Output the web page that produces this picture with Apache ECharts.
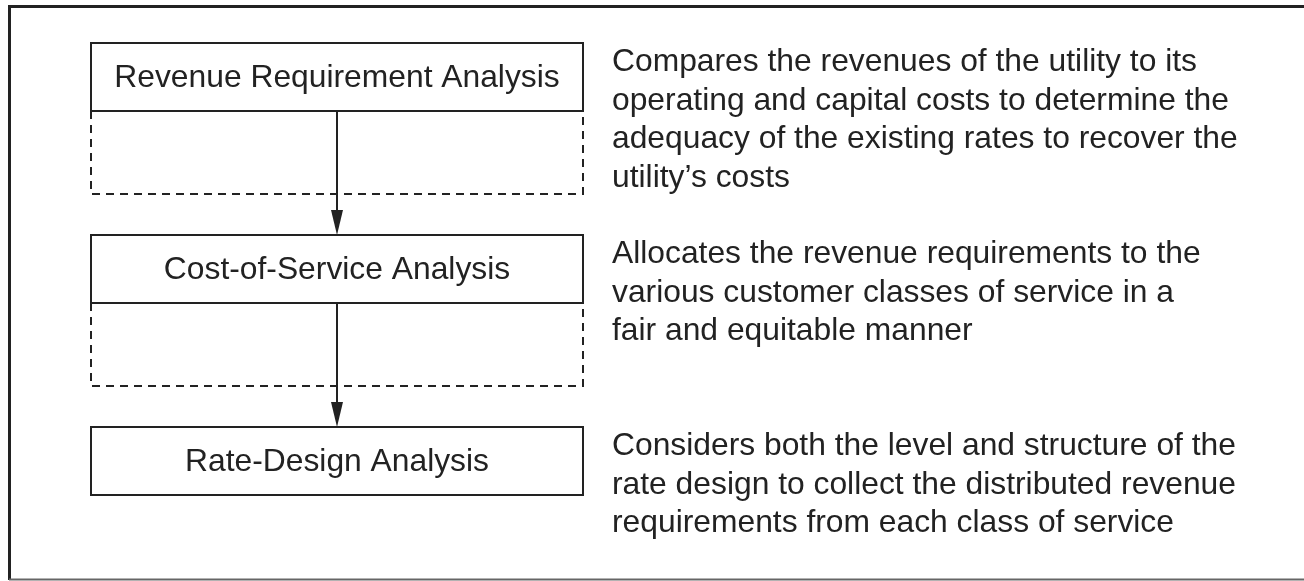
<!DOCTYPE html>
<html>
<head>
<meta charset="utf-8">
<title>Rate study steps</title>
<script src="https://cdn.jsdelivr.net/npm/echarts@6/dist/echarts.min.js"></script>
<style>
  html, body { margin: 0; padding: 0; background: #fff; }
  #main { width: 1304px; height: 581px; }
</style>
</head>
<body>
<div id="main"></div>
<script>
// 流程步骤名称
var steps = ['Revenue Requirement Analysis', 'Cost-of-Service Analysis', 'Rate-Design Analysis'];
// 每一步右侧的说明文字（按原图换行）
var descriptions = [
  ['Compares the revenues of the utility to its',
   'operating and capital costs to determine the',
   'adequacy of the existing rates to recover the',
   'utility\u2019s costs'],
  ['Allocates the revenue requirements to the',
   'various customer classes of service in a',
   'fair and equitable manner'],
  ['Considers both the level and structure of the',
   'rate design to collect the distributed revenue',
   'requirements from each class of service']
];

// 版面参数
var boxLeft = 91, boxRight = 583, firstTop = 43, pitch = 192;
var boxH = 68, dashH = 83, textX = 612;
var ink = '#222', font = 'Liberation Sans, Arial, sans-serif';
var fontSize = 31.8, lineH = 38.5;
var cx = (boxLeft + boxRight) / 2;

var myChart = echarts.init(document.getElementById('main'));

var graphic = [
  // 外框：上、左、下
  { type: 'line', shape: { x1: 9, y1: 6.5, x2: 1310, y2: 6.5 }, style: { stroke: ink, lineWidth: 3 } },
  { type: 'line', shape: { x1: 9.5, y1: 5, x2: 9.5, y2: 580 }, style: { stroke: ink, lineWidth: 3 } },
  { type: 'line', shape: { x1: 9, y1: 579.5, x2: 1310, y2: 579.5 }, style: { stroke: '#666', lineWidth: 2 } }
];

steps.forEach(function (name, i) {
  var top = firstTop + i * pitch;
  var bottom = top + boxH;
  graphic.push({
    type: 'rect',
    shape: { x: boxLeft, y: top, width: boxRight - boxLeft, height: boxH },
    style: { fill: '#fff', stroke: ink, lineWidth: 2 }
  });
  graphic.push({
    type: 'text', x: cx, y: top + boxH / 2 + 1,
    style: { text: name, fill: ink, font: fontSize + 'px ' + font, textAlign: 'center', textVerticalAlign: 'middle' }
  });
  // 说明文字
  graphic.push({
    type: 'text', x: textX, y: top,
    style: { text: descriptions[i].join('\n'), fill: ink, font: fontSize + 'px ' + font, lineHeight: lineH, textAlign: 'left', textVerticalAlign: 'top' }
  });
  if (i < steps.length - 1) {
    var dashBottom = bottom + dashH;
    var nextTop = top + pitch;
    // 虚线框
    graphic.push({
      type: 'polyline',
      shape: { points: [[boxLeft, bottom], [boxLeft, dashBottom], [boxRight, dashBottom], [boxRight, bottom]] },
      style: { stroke: ink, lineWidth: 2, lineDash: [8, 6], fill: null }
    });
    // 箭头
    graphic.push({
      type: 'line', shape: { x1: cx, y1: bottom, x2: cx, y2: nextTop - 22 },
      style: { stroke: ink, lineWidth: 2 }
    });
    graphic.push({
      type: 'polygon', shape: { points: [[cx - 6, nextTop - 25], [cx + 6, nextTop - 25], [cx, nextTop]] },
      style: { fill: ink }
    });
  }
});

myChart.setOption({
  animation: false,
  backgroundColor: '#fff',
  graphic: graphic
});
window.onresize = function () {
  myChart.resize();
};
</script>
</body>
</html>
